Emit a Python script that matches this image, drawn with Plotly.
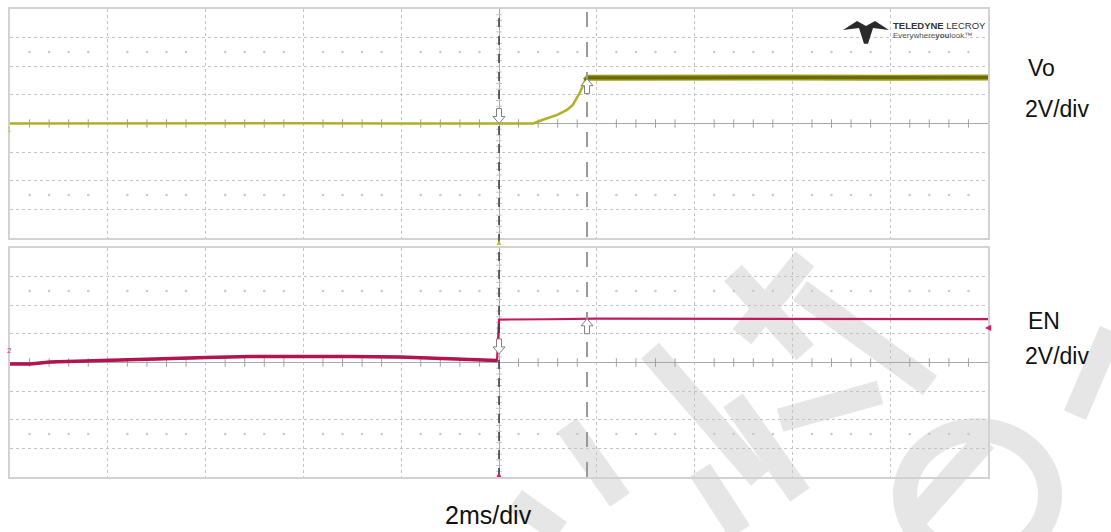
import plotly.graph_objects as go
import numpy as np

# ---------------- data (time in ms, voltage in V) ----------------
vo_t = [-10, -8, -6, -4, -2, 0, 0.4, 0.70, 0.90, 1.19, 1.39, 1.51, 1.66, 1.76, 1.82, 2, 3, 4, 6, 8, 10]
vo_v = [0.0, 0.02, 0.0, 0.02, 0.0, 0.0, 0.0, 0.0, 0.26, 0.60, 0.95, 1.30, 2.20, 3.00, 3.20, 3.20, 3.22, 3.20, 3.22, 3.20, 3.21]

en_t = [-10, -9.59, -9.18, -8.57, -8.02, -7.14, -5.99, -5.09, -3.99, -3.05, -2.02, -1.0, -0.04,
        0.0, 0.05, 1.0, 2.0, 4.0, 6.0, 8.0, 10.0]
en_v = [-0.10, -0.10, 0.03, 0.10, 0.14, 0.21, 0.35, 0.42, 0.45, 0.42, 0.38, 0.28, 0.14,
        3.00, 3.00, 3.02, 3.06, 3.06, 3.06, 3.05, 3.03]

x_range = [-10, 10]      # 2 ms/div, 10 divisions
y_range = [-8, 8]        # 2 V/div, 8 divisions
cursor_t = 1.8
trig_t = 0.0

# ---------------- layout geometry (window pixels) ----------------
W, H = 1111, 532
ML, MR, MT, MB = 10, 123, 7, 55
PW, PH = W - ML - MR, H - MT - MB
TOP_Y0, TOP_Y1 = 7, 237
BOT_Y0, BOT_Y1 = 247, 477


def px(x):
    return (x - ML) / PW


def py(y):
    return (H - MB - y) / PH


def t2px(t):
    return ML + (t - x_range[0]) / (x_range[1] - x_range[0]) * PW


def v2py(v, panel):
    y0, y1 = (TOP_Y0, TOP_Y1) if panel == 0 else (BOT_Y0, BOT_Y1)
    return y1 - (v - y_range[0]) / (y_range[1] - y_range[0]) * (y1 - y0)


fig = go.Figure()

GRID = "#c4c4c4"
AXC = "#a8a8a8"

# minor dots and centre ticks (grid decoration)
minor_x = [v for v in np.round(np.arange(-10, 10.01, 0.4), 2) if abs(v / 2 - round(v / 2)) > 1e-6]
minor_y = [v for v in np.round(np.arange(-8, 8.01, 0.4), 2) if abs(v / 2 - round(v / 2)) > 1e-6]

for xa, ya in (("x", "y"), ("x2", "y2")):
    fig.add_trace(go.Scatter(x=minor_x * 2, y=[5] * len(minor_x) + [-5] * len(minor_x), mode="markers",
                             marker=dict(size=2.5, color="#c8c8c8"), xaxis=xa, yaxis=ya,
                             hoverinfo="skip", showlegend=False))
    fig.add_trace(go.Scatter(x=minor_x, y=[0] * len(minor_x), mode="markers",
                             marker=dict(symbol="line-ns", size=6, line=dict(width=1, color="#a0a0a0")),
                             xaxis=xa, yaxis=ya, hoverinfo="skip", showlegend=False))
    fig.add_trace(go.Scatter(x=[0] * len(minor_y), y=minor_y, mode="markers",
                             marker=dict(symbol="line-ew", size=4, line=dict(width=1, color="#c0c0c0")),
                             xaxis=xa, yaxis=ya, hoverinfo="skip", showlegend=False))

# Vo trace
fig.add_trace(go.Scatter(x=vo_t, y=vo_v, mode="lines", line=dict(color="#b0b028", width=2.5),
                         xaxis="x", yaxis="y", hoverinfo="skip", showlegend=False))
hi_t = [t for t, v in zip(vo_t, vo_v) if v >= 3.0]
hi_v = [v for v in vo_v if v >= 3.0]
fig.add_trace(go.Scatter(x=hi_t, y=hi_v, mode="lines", line=dict(color="#9a9a1e", width=6),
                         xaxis="x", yaxis="y", hoverinfo="skip", showlegend=False))
fig.add_trace(go.Scatter(x=hi_t, y=hi_v, mode="lines", line=dict(color="#6a6a08", width=3),
                         xaxis="x", yaxis="y", hoverinfo="skip", showlegend=False))

# EN trace
lo_t = [t for t, v in zip(en_t, en_v) if v < 1.0]
lo_v = [v for v in en_v if v < 1.0]
fig.add_trace(go.Scatter(x=en_t, y=en_v, mode="lines", line=dict(color="#c21a62", width=2.2),
                         xaxis="x2", yaxis="y2", hoverinfo="skip", showlegend=False))
fig.add_trace(go.Scatter(x=lo_t, y=lo_v, mode="lines", line=dict(color="#b0154f", width=3.5),
                         xaxis="x2", yaxis="y2", hoverinfo="skip", showlegend=False))

axis_common = dict(range=x_range, dtick=2, showticklabels=False, ticks="",
                   showgrid=True, gridcolor=GRID, griddash="dot", gridwidth=1,
                   zeroline=True, zerolinecolor=AXC, zerolinewidth=1,
                   showline=True, linecolor="#d2d2d2", linewidth=2, mirror=True, fixedrange=True)
yaxis_common = dict(range=y_range, dtick=2, showticklabels=False, ticks="",
                    showgrid=True, gridcolor=GRID, griddash="dot", gridwidth=1,
                    zeroline=True, zerolinecolor=AXC, zerolinewidth=1,
                    showline=True, linecolor="#d2d2d2", linewidth=2, mirror=True, fixedrange=True)

fig.update_layout(
    width=W, height=H,
    margin=dict(l=ML, r=MR, t=MT, b=MB),
    paper_bgcolor="white", plot_bgcolor="white",
    xaxis=dict(domain=[0, 1], anchor="y", **axis_common),
    yaxis=dict(domain=[py(TOP_Y1), 1], anchor="x", **yaxis_common),
    xaxis2=dict(domain=[0, 1], anchor="y2", **axis_common),
    yaxis2=dict(domain=[0, py(BOT_Y0)], anchor="x2", **yaxis_common),
    font=dict(family="Liberation Sans, Arial, sans-serif", color="#111111"),
)

shapes = []
# watermark strokes (pixel coordinates, light grey)
wm = [
    ((733, 272), (805, 352)),
    ((650, 350), (760, 478)),
    ((805, 258), (742, 336)),
    ((780, 420), (880, 392)),
    ((567, 425), (620, 500)),
    ((733, 400), (800, 495)),
    ((515, 500), (560, 532)),
    ((700, 470), (740, 532)),
    ((985, 440), (910, 525)),
    ((1111, 330), (1075, 415)),
    ((800, 290), (930, 385)),
]
for (x0, y0), (x1, y1) in wm:
    shapes.append(dict(type="line", xref="paper", yref="paper", x0=px(x0), y0=py(y0), x1=px(x1), y1=py(y1),
                       line=dict(color="#e6e6e6", width=24), layer="below"))
shapes.append(dict(type="circle", xref="paper", yref="paper", x0=px(905), y0=py(560), x1=px(1050), y1=py(430),
                   line=dict(color="#e6e6e6", width=24), layer="below"))

# trigger line and cursor line
shapes.append(dict(type="line", xref="x", yref="paper", x0=trig_t, x1=trig_t, y0=0, y1=1,
                   line=dict(color="#3a3a3a", width=1.5, dash="dash")))
shapes.append(dict(type="line", xref="x", yref="paper", x0=cursor_t, x1=cursor_t, y0=0, y1=1,
                   line=dict(color="#9a9a9a", width=2, dash="longdash")))


def block_arrow(xp, yp, up):
    s = -1 if up else 1
    pts = [(xp, yp), (xp - 6, yp - s * 7), (xp - 2.5, yp - s * 7), (xp - 2.5, yp - s * 15),
           (xp + 2.5, yp - s * 15), (xp + 2.5, yp - s * 7), (xp + 6, yp - s * 7)]
    p = "M " + " L ".join(f"{px(a):.5f},{py(b):.5f}" for a, b in pts) + " Z"
    return dict(type="path", xref="paper", yref="paper", path=p, fillcolor="white",
                line=dict(color="#808080", width=1))


shapes.append(block_arrow(t2px(trig_t), v2py(0.0, 0), up=False))
shapes.append(block_arrow(t2px(cursor_t), v2py(float(np.interp(cursor_t, vo_t, vo_v)), 0), up=True))
shapes.append(block_arrow(t2px(trig_t), v2py(0.6, 1), up=False))
shapes.append(block_arrow(t2px(cursor_t), v2py(float(np.interp(cursor_t, en_t, en_v)), 1), up=True))

# Teledyne logo mark
bird = [(843, 28), (857, 19), (866, 24), (875, 19), (889, 28), (873, 26), (868, 42), (864, 42), (859, 26)]
path = "M " + " L ".join(f"{px(a):.5f},{py(b):.5f}" for a, b in bird) + " Z"
shapes.append(dict(type="path", xref="paper", yref="paper", path=path,
                   fillcolor="#2a2a2a", line=dict(width=0)))
fig.update_layout(shapes=shapes)

ann = []
LBL = dict(family="Liberation Sans, Arial, sans-serif", size=23, color="#111111")
ann.append(dict(text="Vo", xref="paper", yref="paper", x=px(1026), y=py(66), xanchor="left", yanchor="middle",
                showarrow=False, font=LBL))
ann.append(dict(text="2V/div", xref="paper", yref="paper", x=px(1023), y=py(107), xanchor="left", yanchor="middle",
                showarrow=False, font=LBL))
ann.append(dict(text="EN", xref="paper", yref="paper", x=px(1026), y=py(320), xanchor="left", yanchor="middle",
                showarrow=False, font=LBL))
ann.append(dict(text="2V/div", xref="paper", yref="paper", x=px(1023), y=py(355), xanchor="left", yanchor="middle",
                showarrow=False, font=LBL))
ann.append(dict(text="2ms/div", xref="paper", yref="paper", x=px(488), y=py(515), xanchor="center", yanchor="middle",
                showarrow=False, font=dict(family="Liberation Sans, Arial, sans-serif", size=25, color="#111111")))
# logo text
ann.append(dict(text="<b>TELEDYNE</b> LECROY", xref="paper", yref="paper", x=px(891), y=py(24), xanchor="left",
                yanchor="middle", showarrow=False,
                font=dict(family="Liberation Sans Narrow, Liberation Sans, sans-serif", size=9.5, color="#333333")))
ann.append(dict(text="Everywhere<b>you</b>look™", xref="paper", yref="paper", x=px(891), y=py(34),
                xanchor="left", yanchor="middle", showarrow=False,
                font=dict(family="Liberation Sans Narrow, Liberation Sans, sans-serif", size=8, color="#555555")))

# trigger / channel markers
ann.append(dict(text="▲", xref="x", yref="paper", x=trig_t, y=py(241), showarrow=False,
                font=dict(size=8, color="#c8c020")))
ann.append(dict(text="▲", xref="x", yref="paper", x=trig_t, y=py(481), showarrow=False,
                font=dict(size=8, color="#d0206a")))
ann.append(dict(text="◀", xref="paper", yref="paper", x=px(994), y=py(333), showarrow=False,
                font=dict(size=8, color="#d0206a")))
ann.append(dict(text="1", xref="paper", yref="paper", x=px(5), y=py(121), showarrow=False,
                font=dict(size=8, color="#c8c040")))
ann.append(dict(text="2", xref="paper", yref="paper", x=px(5), y=py(356), showarrow=False,
                font=dict(size=8, color="#d0408a")))
fig.update_layout(annotations=ann)

fig.write_html("out.html", config={"displayModeBar": False},
               post_script="document.body.style.margin='0';document.body.style.overflow='hidden';")
